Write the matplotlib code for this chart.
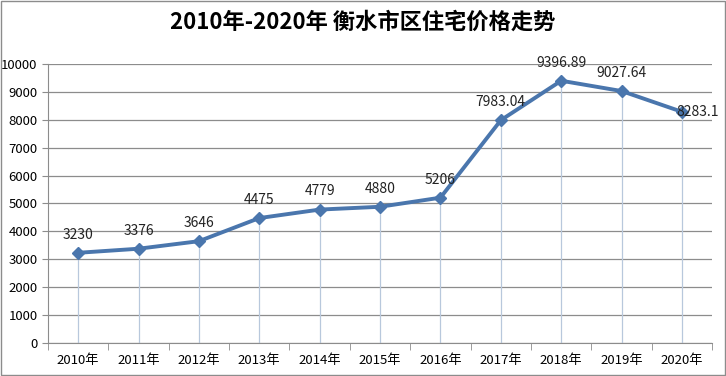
import matplotlib
matplotlib.use('Agg')
from matplotlib import pyplot as plt
from matplotlib.patches import Rectangle

plt.rcParams['font.family'] = ['Noto Sans CJK SC', 'DejaVu Sans']

years = ['2010年', '2011年', '2012年', '2013年', '2014年', '2015年',
         '2016年', '2017年', '2018年', '2019年', '2020年']
prices = [3230, 3376, 3646, 4475, 4779, 4880, 5206, 7983.04, 9396.89, 9027.64, 8283.1]
labels = ['3230', '3376', '3646', '4475', '4779', '4880', '5206',
          '7983.04', '9396.89', '9027.64', '8283.1']

fig = plt.figure(figsize=(7.26, 3.76), dpi=100)
fig.patches.append(Rectangle((0.002, 0.003), 0.996, 0.994, transform=fig.transFigure,
                             fill=False, edgecolor='#8c8c8c', linewidth=1))
ax = fig.add_axes([0.066, 0.088, 0.915, 0.742])

x = list(range(len(years)))
ax.vlines(x, 0, prices, colors='#b8c8dc', linewidth=0.9, zorder=1)
ax.plot(x, prices, color='#4a76ad', linewidth=2.8, marker='D', markersize=6,
        markerfacecolor='#4a76ad', zorder=3)

for i, (p, lab) in enumerate(zip(prices, labels)):
    if i == len(prices) - 1:
        ax.text(i - 0.1, p, lab, ha='left', va='center', fontsize=10, color='#222222')
    else:
        ax.annotate(lab, (i, p), xytext=(0, 8), textcoords='offset points',
                    ha='center', va='bottom', fontsize=10, color='#222222')

ax.set_xlim(-0.5, 10.5)
ax.set_ylim(0, 10000)
ax.set_yticks(range(0, 10001, 1000))
ax.yaxis.grid(True, color='#8c8c8c', linewidth=0.9)
ax.set_axisbelow(True)
ax.set_xticks(x)
ax.set_xticklabels(years, fontsize=9.5)
ax.tick_params(axis='x', length=0, pad=8)
ax.set_xticks([i - 0.5 for i in range(len(years) + 1)], minor=True)
ax.tick_params(axis='x', which='minor', length=5, color='#8c8c8c', direction='out')
ax.tick_params(axis='y', labelsize=9.5, length=4, color='#8c8c8c')
for s in ['top', 'right']:
    ax.spines[s].set_visible(False)
ax.spines['left'].set_color('#8c8c8c')
ax.spines['bottom'].set_color('#8c8c8c')

fig.text(0.5, 0.94, '2010年-2020年 衡水市区住宅价格走势', ha='center', va='center',
         fontsize=16, fontweight='bold')

fig.savefig('out.png', dpi=100)
